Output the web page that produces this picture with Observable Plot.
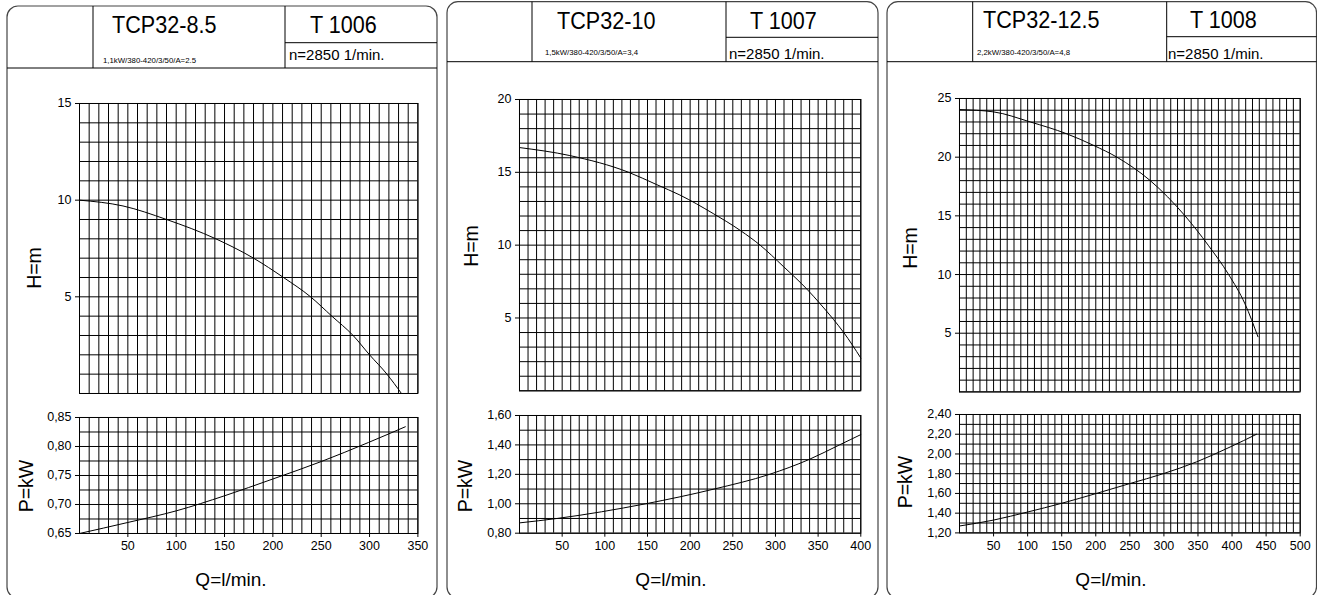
<!DOCTYPE html>
<html><head><meta charset="utf-8">
<script src="https://cdn.jsdelivr.net/npm/d3@7"></script>
<script src="https://cdn.jsdelivr.net/npm/@observablehq/plot@0.6"></script>
<style>
html,body{margin:0;padding:0;background:#fff;}
#root{position:relative;width:1317px;height:595px;overflow:hidden;font-family:"Liberation Sans",Arial,sans-serif;}
#root svg{position:absolute;overflow:visible;}
</style></head><body><div id="root"></div>
<script>
// ---------- data ----------
const models = ["TCP32-8.5", "TCP32-10", "TCP32-12.5"];
const codes = ["T 1006", "T 1007", "T 1008"];
const ratings = ["1,1kW/380-420/3/50/A=2.5", "1,5kW/380-420/3/50/A=3,4", "2,2kW/380-420/3/50/A=4,8"];
const speeds = ["n=2850 1/min.", "n=2850 1/min.", "n=2850 1/min."];
const hLabel = "H=m", pLabel = "P=kW", qLabel = "Q=l/min.";

const qMax = [350, 400, 500];
const hMax = [15, 20, 25];
const pMin = [0.65, 0.80, 1.20];
const pMax = [0.85, 1.60, 2.40];
const pGridStep = [0.025, 0.1, 0.1];

const hTicks = [[5, 10, 15], [5, 10, 15, 20], [5, 10, 15, 20, 25]];
const pTicks = [[0.65, 0.70, 0.75, 0.80, 0.85], [0.80, 1.00, 1.20, 1.40, 1.60], [1.20, 1.40, 1.60, 1.80, 2.00, 2.20, 2.40]];
const qTicks = [[50, 100, 150, 200, 250, 300, 350], [50, 100, 150, 200, 250, 300, 350, 400], [50, 100, 150, 200, 250, 300, 350, 400, 450, 500]];

// H(Q) curves
const q1H = [0, 45, 90, 141, 180, 211, 239, 261, 283, 300, 318, 333];
const h1  = [10, 9.7, 9, 8, 7, 6, 5, 4, 3, 2, 1, 0];
const q2H = [0, 59, 128, 161, 188, 227, 259, 282, 309, 337, 352, 368, 380, 400];
const h2  = [16.7, 16.15, 15, 14.15, 13.44, 12.17, 11, 10, 8.55, 6.97, 6, 4.9, 4, 2.25];
const q3H = [0, 50, 104, 157, 197, 231, 280, 331, 365, 395, 419, 438];
const h3  = [24.06, 23.86, 23, 22, 21, 20, 18, 15, 12.5, 10, 7.5, 4.7];
// P(Q) curves
const q1P = [0, 50, 100, 150, 200, 250, 299, 337];
const p1  = [0.65, 0.669, 0.689, 0.715, 0.744, 0.774, 0.807, 0.834];
const q2P = [0, 44, 148, 228, 293, 339, 375, 400];
const p2  = [0.87, 0.90, 1.00, 1.10, 1.20, 1.30, 1.40, 1.47];
const q3P = [0, 50, 99, 150, 201, 250, 299, 348, 397, 436];
const p3  = [1.27, 1.33, 1.41, 1.50, 1.60, 1.70, 1.80, 1.92, 2.07, 2.20];

const hCurves = [[q1H, h1], [q2H, h2], [q3H, h3]];
const pCurves = [[q1P, p1], [q2P, p2], [q3P, p3]];

// ---------- layout (page pixels) ----------
const layout = [
  {card: [7, 6, 437, 598], div1: 93, div2: 285, hLine: 42.7, headBottom: 68,
   title: [112, 33], code: [310, 33], rating: [103, 63], speed: [289, 60],
   plotX: [79.3, 417.7], hY: [103, 393], pY: [416.7, 532.7],
   hLab: [34, 268], pLab: [26, 486], qLab: [231, 586]},
  {card: [447, 1.7, 878, 598], div1: 532, div2: 726, hLine: 37.3, headBottom: 61.7,
   title: [557, 29], code: [750, 29], rating: [545, 55], speed: [729, 59],
   plotX: [518.7, 860], hY: [98.7, 390], pY: [415, 532.7],
   hLab: [471, 246], pLab: [465, 486], qLab: [671, 586]},
  {card: [887, 1.7, 1316.5, 598], div1: 972.7, div2: 1166.7, hLine: 36.7, headBottom: 61.7,
   title: [983, 28], code: [1190, 28], rating: [977, 55], speed: [1168, 59],
   plotX: [959.3, 1300], hY: [98.3, 391.7], pY: [414.3, 532.7],
   hLab: [910, 248], pLab: [905, 482], qLab: [1111, 586]}
];

const root = d3.select("#root");
const FONT = '"Liberation Sans", Arial, sans-serif';

// ---------- frame / header drawing ----------
const deco = root.append("svg").attr("width", 1317).attr("height", 595)
  .style("left", "0px").style("top", "0px");

layout.forEach((L, i) => {
  const [x0, y0, x1, y1] = L.card;
  deco.append("rect").attr("x", x0).attr("y", y0).attr("width", x1 - x0).attr("height", y1 - y0)
    .attr("rx", 11).attr("fill", "#fff").attr("stroke", "#444").attr("stroke-width", 1.2);
  const line = (ax, ay, bx, by) => deco.append("line").attr("x1", ax).attr("y1", ay).attr("x2", bx).attr("y2", by)
    .attr("stroke", "#000").attr("stroke-width", 1);
  line(x0, L.headBottom, x1, L.headBottom);
  line(L.div1, y0, L.div1, L.headBottom);
  line(L.div2, y0, L.div2, L.headBottom);
  line(L.div2, L.hLine, x1, L.hLine);
  const text = (pos, s, size, anchor = "start", rot = false, sx = 1) => {
    const t = deco.append("text").attr("font-family", FONT).attr("font-size", size).attr("fill", "#000")
      .attr("text-anchor", anchor).text(s);
    if (rot) t.attr("transform", `translate(${pos[0]},${pos[1]}) rotate(-90)`).attr("dominant-baseline", "central");
    else t.attr("transform", `translate(${pos[0]},${pos[1]}) scale(${sx},1)`);
    return t;
  };
  text(L.title, models[i], 23.5, "start", false, 0.92);
  text(L.code, codes[i], 23.5, "start", false, 0.92);
  text(L.rating, ratings[i], 7.8);
  text(L.speed, speeds[i], 15);
  text(L.hLab, hLabel, 19.5, "middle", true);
  text(L.pLab, pLabel, 19.5, "middle", true);
  text(L.qLab, qLabel, 19, "middle");
});

// ---------- plots ----------
const comma2 = d => d.toFixed(2).replace(".", ",");
const gridStyle = {stroke: "#000", strokeOpacity: 1, strokeWidth: 1};

function place(svg, left, top) {
  d3.select(svg).style("left", left + "px").style("top", top + "px");
  root.node().appendChild(svg);
}

layout.forEach((L, i) => {
  const mL = 60, mR = 14, mT = 10;
  const pw = L.plotX[1] - L.plotX[0];
  const xGrid = d3.range(0, qMax[i] + 0.001, 10);

  // H plot
  const hData = hCurves[i][0].map((q, k) => ({q, v: hCurves[i][1][k]}));
  const hh = L.hY[1] - L.hY[0], mBh = 8;
  const hPlot = Plot.plot({
    width: pw + mL + mR, height: hh + mT + mBh,
    marginLeft: mL, marginRight: mR, marginTop: mT, marginBottom: mBh,
    style: {fontFamily: FONT, fontSize: "12.5px", background: "transparent", color: "#000"},
    x: {domain: [0, qMax[i]], axis: null},
    y: {domain: [0, hMax[i]], label: null, axis: null},
    marks: [
      Plot.gridX(xGrid, gridStyle),
      Plot.gridY(d3.range(0, hMax[i] + 0.001, 1), gridStyle),
      Plot.frame({stroke: "#000", strokeWidth: 1}),
      Plot.axisY(hTicks[i], {tickSize: 4, tickPadding: 4, label: null, fontSize: 12.5}),
      Plot.line(hData, {x: "q", y: "v", curve: "monotone-x", stroke: "#000", strokeWidth: 1})
    ]
  });
  place(hPlot, L.plotX[0] - mL, L.hY[0] - mT);

  // P plot
  const pData = pCurves[i][0].map((q, k) => ({q, v: pCurves[i][1][k]}));
  const ph = L.pY[1] - L.pY[0], mBp = 30;
  const pPlot = Plot.plot({
    width: pw + mL + mR, height: ph + mT + mBp,
    marginLeft: mL, marginRight: mR, marginTop: mT, marginBottom: mBp,
    style: {fontFamily: FONT, fontSize: "12.5px", background: "transparent", color: "#000"},
    x: {domain: [0, qMax[i]], label: null, axis: null},
    y: {domain: [pMin[i], pMax[i]], label: null, axis: null},
    marks: [
      Plot.gridX(xGrid, gridStyle),
      Plot.gridY(d3.range(pMin[i], pMax[i] + 0.0001, pGridStep[i]), gridStyle),
      Plot.frame({stroke: "#000", strokeWidth: 1}),
      Plot.axisY(pTicks[i], {tickSize: 4, tickPadding: 4, tickFormat: comma2, label: null, fontSize: 12.5}),
      Plot.axisX(qTicks[i], {tickSize: 4, tickPadding: 4, label: null, fontSize: 12.5}),
      Plot.line(pData, {x: "q", y: "v", curve: "monotone-x", stroke: "#000", strokeWidth: 1})
    ]
  });
  place(pPlot, L.plotX[0] - mL, L.pY[0] - mT);
});
</script></body></html>
